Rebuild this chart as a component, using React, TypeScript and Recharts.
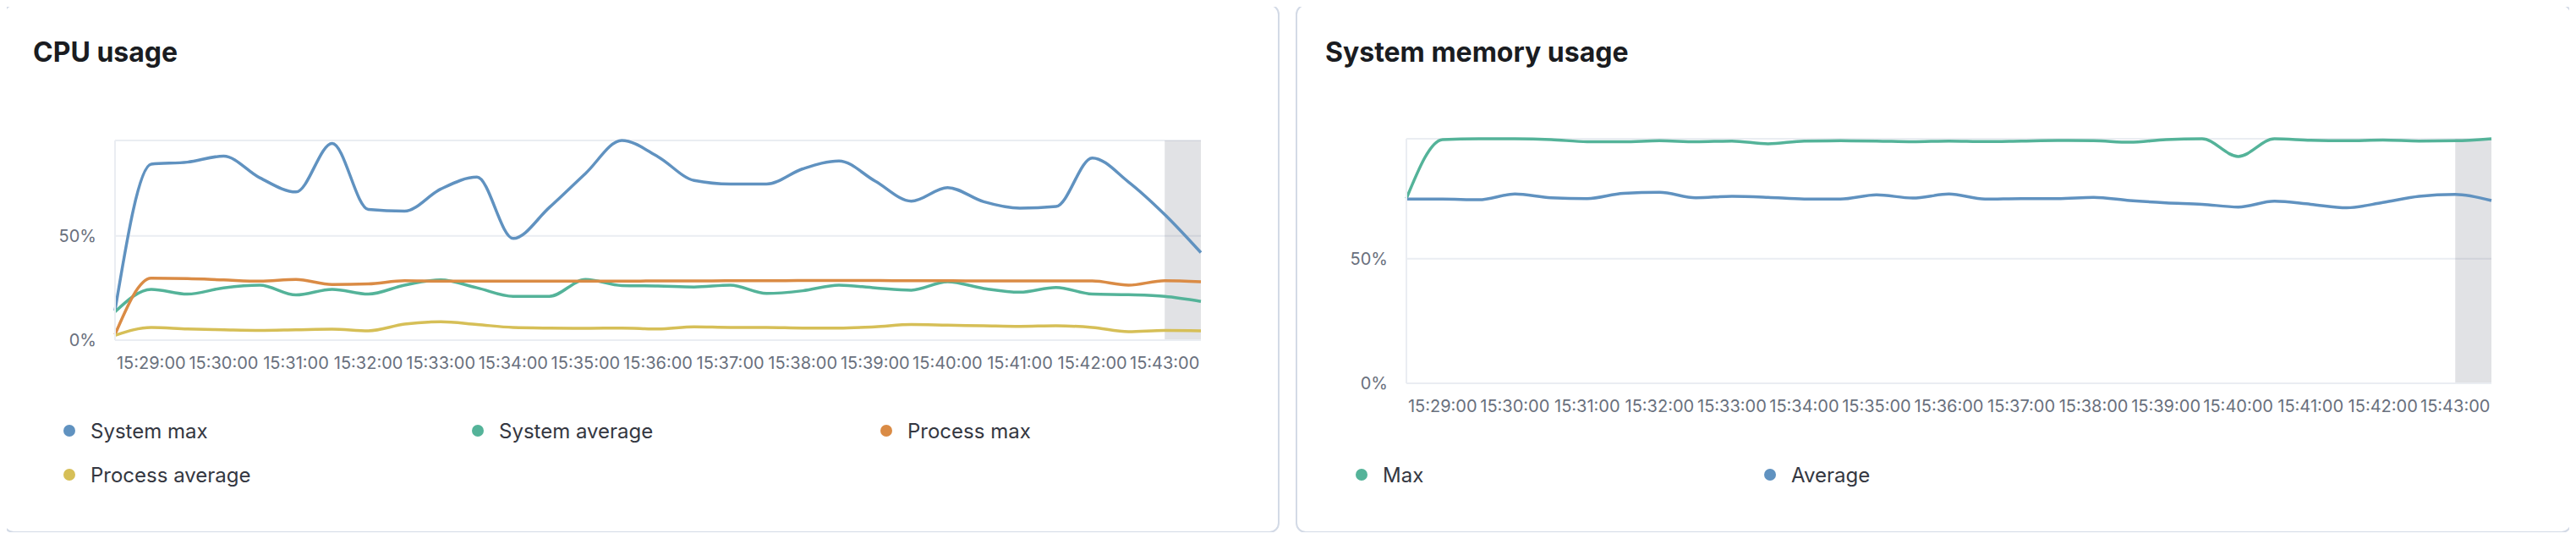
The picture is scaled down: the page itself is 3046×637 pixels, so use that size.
import {
  LineChart,
  Line,
  XAxis,
  YAxis,
  CartesianGrid,
  ReferenceArea,
} from "recharts";

/* ---------- data (30s buckets, 15:28:30 -> 15:43:30) ---------- */

const times = [
  "15:28:30", "15:29:00", "15:29:30", "15:30:00", "15:30:30", "15:31:00",
  "15:31:30", "15:32:00", "15:32:30", "15:33:00", "15:33:30", "15:34:00",
  "15:34:30", "15:35:00", "15:35:30", "15:36:00", "15:36:30", "15:37:00",
  "15:37:30", "15:38:00", "15:38:30", "15:39:00", "15:39:30", "15:40:00",
  "15:40:30", "15:41:00", "15:41:30", "15:42:00", "15:42:30", "15:43:00",
  "15:43:30",
];

const tickLabels = [
  "15:29:00", "15:30:00", "15:31:00", "15:32:00", "15:33:00", "15:34:00",
  "15:35:00", "15:36:00", "15:37:00", "15:38:00", "15:39:00", "15:40:00",
  "15:41:00", "15:42:00", "15:43:00",
];

const yTicks = [0, 50];

// CPU usage (%)
const cpuSystemMax = [
  14.2, 84.4, 85.4, 88.3, 77.9, 71.1, 94.4, 62.7, 61.9, 72.5, 78.2, 48.8,
  63.7, 80.0, 95.8, 88.0, 76.6, 74.9, 74.9, 82.2, 86.0, 76.3, 66.7, 73.2,
  66.4, 63.3, 64.1, 87.4, 75.9, 60.3, 42.0,
];
const cpuSystemAvg = [
  13.6, 24.4, 22.1, 25.1, 26.4, 21.7, 24.4, 22.1, 26.4, 28.9, 25.1, 21.0,
  21.0, 29.1, 26.2, 26.0, 25.5, 26.4, 22.4, 23.7, 26.4, 25.1, 24.0, 28.0,
  24.8, 23.0, 25.3, 22.1, 21.8, 21.0, 18.6,
];
const cpuProcessMax = [
  2.7, 29.7, 29.5, 28.9, 28.3, 29.1, 26.7, 27.0, 28.5, 28.3, 28.3, 28.3,
  28.3, 28.3, 28.3, 28.4, 28.4, 28.5, 28.5, 28.6, 28.6, 28.6, 28.5, 28.5,
  28.4, 28.4, 28.4, 28.4, 26.4, 28.5, 28.0,
];
const cpuProcessAvg = [
  2.3, 6.1, 5.4, 5.0, 4.7, 5.0, 5.3, 4.5, 7.7, 8.8, 7.5, 6.1,
  5.8, 5.7, 5.8, 5.4, 6.4, 6.1, 6.1, 5.8, 5.8, 6.4, 7.5, 7.2,
  6.9, 6.6, 6.9, 6.1, 4.1, 4.7, 4.5,
];

// System memory usage (%)
const memMax = [
  74.2, 97.9, 98.2, 98.2, 97.9, 97.0, 97.0, 97.4, 97.0, 97.3, 96.2, 97.3,
  97.4, 97.3, 97.0, 97.3, 97.1, 97.3, 97.5, 97.4, 96.8, 97.9, 98.2, 91.1,
  98.2, 97.6, 97.4, 97.7, 97.3, 97.4, 98.2,
];
const memAvg = [
  74.0, 74.0, 73.7, 76.0, 74.5, 74.2, 76.3, 76.7, 74.5, 75.1, 74.7, 74.0,
  74.0, 75.7, 74.4, 76.0, 74.0, 74.2, 74.2, 74.7, 73.4, 72.5, 71.9, 70.8,
  73.1, 71.9, 70.5, 72.6, 75.1, 75.9, 73.4,
];

/* ---------- styling ---------- */

const FONT = "Inter, 'Noto Sans', sans-serif";
const GRID = "#eaedf2";
const TICK = "#69707d";

const BLUE = "#6092c0";
const GREEN = "#54b399";
const ORANGE = "#da8b45";
const YELLOW = "#d6bf57";

interface Series {
  key: string;
  name: string;
  color: string;
  values: number[];
}

const cpuSeries: Series[] = [
  { key: "systemMax", name: "System max", color: BLUE, values: cpuSystemMax },
  { key: "systemAvg", name: "System average", color: GREEN, values: cpuSystemAvg },
  { key: "processMax", name: "Process max", color: ORANGE, values: cpuProcessMax },
  { key: "processAvg", name: "Process average", color: YELLOW, values: cpuProcessAvg },
];

const memSeries: Series[] = [
  { key: "max", name: "Max", color: GREEN, values: memMax },
  { key: "avg", name: "Average", color: BLUE, values: memAvg },
];

const tickIndexes = tickLabels.map((l) => times.indexOf(l));
const lastBucket = times.length - 1;

function buildRows(series: Series[]) {
  return times.map((t, i) => {
    const row: Record<string, number | string> = { i, time: t };
    series.forEach((s) => {
      row[s.key] = s.values[i];
    });
    return row;
  });
}

interface PanelProps {
  title: string;
  left: number;
  series: Series[];
  chartHeight: number;
  marginTop: number;
  yAxisWidth: number;
  marginRight: number;
  legendTop: number;
}

const CARD_W = 1509;
const CARD_H = 625;

const Panel = ({
  title,
  left,
  series,
  chartHeight,
  marginTop,
  yAxisWidth,
  marginRight,
  legendTop,
}: PanelProps) => {
  const data = buildRows(series);

  return (
    <div
      style={{
        position: "absolute",
        left,
        top: 5,
        width: CARD_W,
        height: CARD_H,
        boxSizing: "border-box",
        border: "2px solid #d3dae6",
        borderRadius: 12,
        background: "#fff",
      }}
    >
      <div
        style={{
          position: "absolute",
          left: 33,
          top: 39,
          fontFamily: FONT,
          fontWeight: 700,
          fontSize: 32,
          lineHeight: "32px",
          color: "#1a1c21",
          whiteSpace: "nowrap",
        }}
      >
        {title}
      </div>

      <div style={{ position: "absolute", left: 0, top: 0 }}>
        <LineChart
          width={CARD_W - 4}
          height={chartHeight}
          data={data}
          margin={{ top: marginTop, right: marginRight, bottom: 0, left: 0 }}
        >
          <CartesianGrid vertical={false} stroke={GRID} strokeWidth={2} />
          <XAxis
            type="number"
            dataKey="i"
            domain={[0, lastBucket]}
            ticks={tickIndexes}
            interval={0}
            tickFormatter={(v: number) => times[v]}
            tickLine={false}
            tickSize={0}
            tickMargin={20}
            height={60}
            axisLine={{ stroke: GRID, strokeWidth: 2 }}
            tick={{ fill: TICK, fontSize: 20, fontFamily: FONT }}
          />
          <YAxis
            type="number"
            domain={[0, "dataMax"]}
            ticks={yTicks}
            tickFormatter={(v: number) => `${v}%`}
            width={yAxisWidth}
            tickLine={false}
            tickSize={0}
            tickMargin={22}
            axisLine={{ stroke: GRID, strokeWidth: 2 }}
            tick={{ fill: TICK, fontSize: 20, fontFamily: FONT }}
          />
          {series.map((s) => (
            <Line
              key={s.key}
              type="monotone"
              dataKey={s.key}
              name={s.name}
              stroke={s.color}
              strokeWidth={3.5}
              dot={false}
              activeDot={false}
              isAnimationActive={false}
            />
          ))}
          <ReferenceArea
            x1={lastBucket - 1}
            x2={lastBucket}
            fill="#69707d"
            fillOpacity={0.2}
            stroke="none"
          />
        </LineChart>
      </div>

      <div
        style={{
          position: "absolute",
          left: 69,
          top: legendTop,
          display: "grid",
          gridTemplateColumns: "483px 483px 483px",
          gridAutoRows: "52px",
          fontFamily: FONT,
          fontSize: 24,
          color: "#343741",
        }}
      >
        {series.map((s) => (
          <div
            key={s.key}
            style={{ display: "flex", alignItems: "center", whiteSpace: "nowrap" }}
          >
            <span
              style={{
                display: "inline-block",
                width: 14,
                height: 14,
                borderRadius: "50%",
                background: s.color,
                marginRight: 18,
              }}
            />
            {s.name}
          </div>
        ))}
      </div>
    </div>
  );
};

export default function App() {
  return (
    <div
      style={{
        position: "relative",
        margin: -8,
        width: 3046,
        height: 637,
        overflow: "hidden",
        background: "#fff",
      }}
    >
      <Panel
        title="CPU usage"
        left={4}
        series={cpuSeries}
        chartHeight={455}
        marginTop={159}
        yAxisWidth={130}
        marginRight={91}
        legendTop={476}
      />
      <Panel
        title="System memory usage"
        left={1532}
        series={memSeries}
        chartHeight={506}
        marginTop={157}
        yAxisWidth={129}
        marginRight={93}
        legendTop={528}
      />
    </div>
  );
}
